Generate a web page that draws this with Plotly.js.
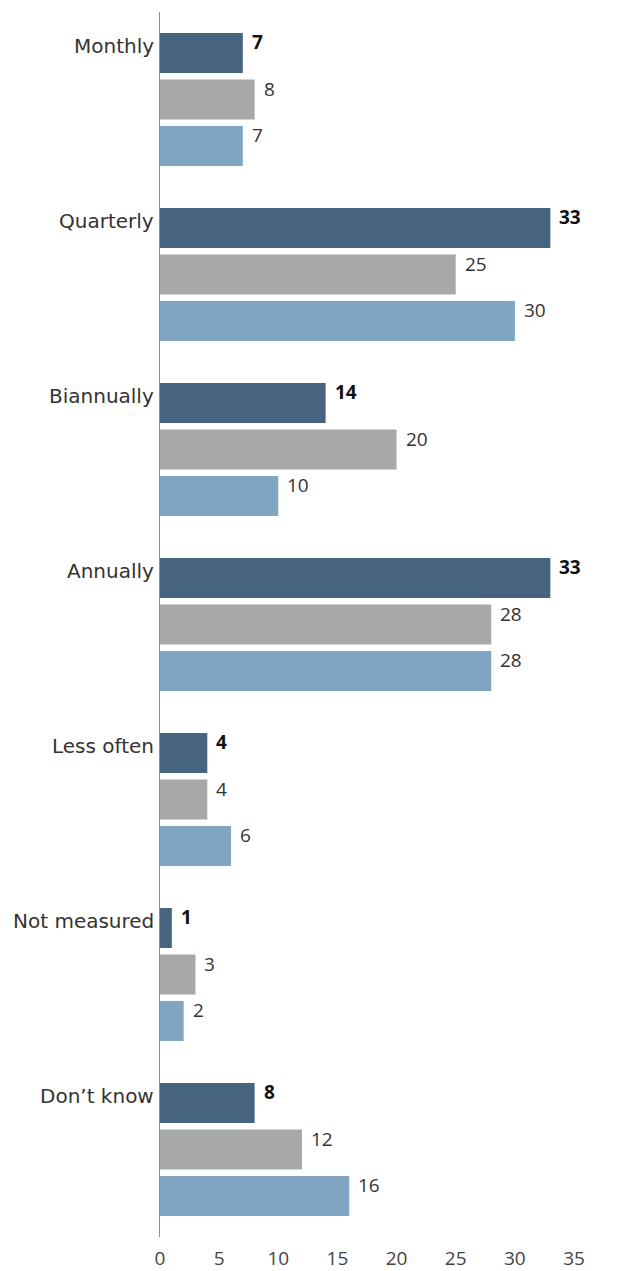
<!DOCTYPE html>
<html>
<head>
<meta charset="utf-8">
<script src="https://cdn.plot.ly/plotly-3.0.1.min.js"></script>
<style>html,body{margin:0;padding:0;background:#fff;}#chart{width:619px;height:1271px;}</style>
</head>
<body>
<div id="chart"></div>
<script>
var categories = ["Monthly", "Quarterly", "Biannually", "Annually", "Less often", "Not measured", "Don\u2019t know"];
var series1 = [7, 33, 14, 33, 4, 1, 8];
var series2 = [8, 25, 20, 28, 4, 3, 12];
var series3 = [7, 30, 10, 28, 6, 2, 16];
var xTicks = [0, 5, 10, 15, 20, 25, 30, 35];

var colors = ["#46637F", "#A7A8AA", "#7FA5C3"];
var allSeries = [series1, series2, series3];
var barPitch = 46.5 / 175;
var barWidth = 40 / 175;
var FONT = "Open Sans, sans-serif";
var CATFONT = "DejaVu Sans, sans-serif";

var traces = allSeries.map(function (vals, j) {
  return {
    type: "bar",
    orientation: "h",
    x: vals,
    y: vals.map(function (v, i) { return i + (j - 1) * barPitch; }),
    width: barWidth,
    marker: { color: colors[j] },
    hoverinfo: "x",
    showlegend: false
  };
});

var annotations = [];
categories.forEach(function (c, i) {
  annotations.push({
    xref: "paper", yref: "y", x: 0, y: i - barPitch,
    text: c, showarrow: false, xanchor: "right", yanchor: "middle",
    xshift: -4, yshift: 7,
    font: { family: CATFONT, size: 20, color: "#333333" }
  });
});
allSeries.forEach(function (vals, j) {
  vals.forEach(function (v, i) {
    annotations.push({
      xref: "x", yref: "y", x: v, y: i + (j - 1) * barPitch,
      text: j === 0 ? "<b>" + v + "</b>" : String(v),
      showarrow: false, xanchor: "left", yanchor: "middle",
      xshift: 7, yshift: 11,
      font: { family: FONT, size: 19, color: j === 0 ? "#111111" : "#333333" }
    });
  });
});

var layout = {
  width: 619, height: 1271,
  margin: { l: 160, r: 45, t: 12, b: 34 },
  paper_bgcolor: "#ffffff", plot_bgcolor: "#ffffff",
  barmode: "overlay",
  xaxis: {
    range: [0, 35], tickvals: xTicks, ticktext: xTicks.map(String),
    showgrid: false, zeroline: false, showline: false,
    ticks: "", ticklabelstandoff: 8,
    tickfont: { family: FONT, size: 19, color: "#444444" },
    fixedrange: true
  },
  yaxis: {
    range: [6.5, -0.5], showticklabels: false, showgrid: false,
    zeroline: false, showline: true, linecolor: "#7F93A8", linewidth: 1.5,
    ticks: "", fixedrange: true
  },
  annotations: annotations,
  font: { family: FONT }
};

Plotly.newPlot("chart", traces, layout, { displayModeBar: false, staticPlot: true });
</script>
</body>
</html>
